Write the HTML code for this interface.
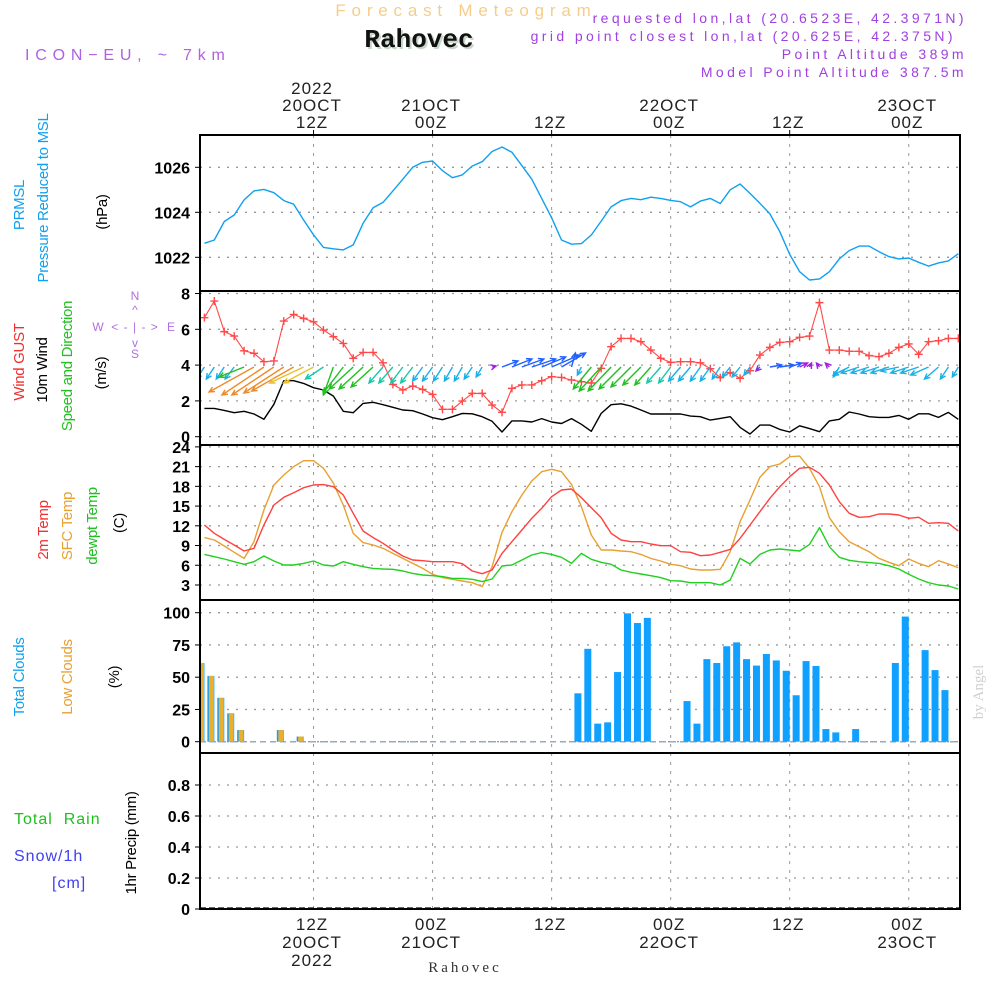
<!DOCTYPE html>
<html><head><meta charset="utf-8"><style>
html,body{margin:0;padding:0;background:#fff;}
svg{display:block;}
.tk{font-family:"Liberation Sans",sans-serif;font-weight:bold;font-size:16px;fill:#000;}
.tl{font-family:"Liberation Sans",sans-serif;font-size:17px;fill:#222;letter-spacing:1px;}
.rl{font-family:"Liberation Sans Narrow","Liberation Sans",sans-serif;font-size:15px;letter-spacing:-0.3px;}
</style></head><body>
<svg id="chart" width="1000" height="1000" viewBox="0 0 1000 1000" xmlns="http://www.w3.org/2000/svg">
<g>
<text x="466" y="16" text-anchor="middle" font-family="Liberation Sans,sans-serif" font-size="17" letter-spacing="5.8" fill="#f5cd8a">Forecast Meteogram</text>
<text x="421" y="49" text-anchor="middle" font-family="Liberation Mono,monospace" font-weight="bold" font-size="26" fill="#c8d8c8">Rahovec</text>
<text x="419" y="47" text-anchor="middle" font-family="Liberation Mono,monospace" font-weight="bold" font-size="26" fill="#111">Rahovec</text>
<text x="25" y="60" font-family="Liberation Sans,sans-serif" font-size="16" letter-spacing="5.8" fill="#b060e0">ICON−EU, ~ 7km</text>
<g font-family="Liberation Sans,sans-serif" font-size="14" letter-spacing="3.4" fill="#a040e0" text-anchor="end">
<text x="967" y="23">requested lon,lat (20.6523E, 42.3971N)</text>
<text x="956" y="41">grid point closest lon,lat (20.625E, 42.375N)</text>
<text x="967" y="59">Point Altitude 389m</text>
<text x="967" y="77">Model Point Altitude 387.5m</text>
</g>
</g>
<g id="grid"></g>
<g id="marks"></g>
<g id="frames"></g>
<g id="axes"></g>
<g>
<text class="rl" transform="translate(24,205) rotate(-90)" text-anchor="middle" fill="#10a0f0">PRMSL</text>
<text class="rl" transform="translate(48,198) rotate(-90)" text-anchor="middle" fill="#10a0f0">Pressure Reduced to MSL</text>
<text class="rl" transform="translate(107,212) rotate(-90)" text-anchor="middle" fill="#000">(hPa)</text>
<text class="rl" transform="translate(24,362) rotate(-90)" text-anchor="middle" fill="#f03030">Wind GUST</text>
<text class="rl" transform="translate(47,370) rotate(-90)" text-anchor="middle" fill="#000">10m Wind</text>
<text class="rl" transform="translate(72,366) rotate(-90)" text-anchor="middle" fill="#20c020">Speed and Direction</text>
<text class="rl" transform="translate(106,373) rotate(-90)" text-anchor="middle" fill="#000">(m/s)</text>
<g font-family="Liberation Sans,sans-serif" font-size="12" fill="#b070e0" text-anchor="middle">
<text x="135" y="300">N</text><text x="98" y="331">W</text><text x="171" y="331">E</text><text x="135" y="358">S</text>
<text x="135" y="331" letter-spacing="1">&lt; - | - &gt;</text>
<text x="135" y="314">^</text><text x="135" y="347">v</text>
</g>
<text class="rl" transform="translate(48,530) rotate(-90)" text-anchor="middle" fill="#f03030">2m Temp</text>
<text class="rl" transform="translate(72,526) rotate(-90)" text-anchor="middle" fill="#e8a030">SFC Temp</text>
<text class="rl" transform="translate(97,526) rotate(-90)" text-anchor="middle" fill="#20c020">dewpt Temp</text>
<text class="rl" transform="translate(124,523) rotate(-90)" text-anchor="middle" fill="#000">(C)</text>
<text class="rl" transform="translate(24,677) rotate(-90)" text-anchor="middle" fill="#10a0f0">Total Clouds</text>
<text class="rl" transform="translate(72,677) rotate(-90)" text-anchor="middle" fill="#e8a030">Low Clouds</text>
<text class="rl" transform="translate(119,677) rotate(-90)" text-anchor="middle" fill="#000">(%)</text>
<text x="14" y="824" font-family="Liberation Sans,sans-serif" font-size="16" letter-spacing="1" fill="#20c020" xml:space="preserve">Total  Rain</text>
<text x="14" y="861" font-family="Liberation Sans,sans-serif" font-size="16" letter-spacing="1" fill="#4040f0">Snow/1h</text>
<text x="52" y="888" font-family="Liberation Sans,sans-serif" font-size="16" letter-spacing="1" fill="#4040f0">[cm]</text>
<text class="rl" transform="translate(136,843) rotate(-90)" text-anchor="middle" fill="#000">1hr Precip (mm)</text>
<text transform="translate(983,692) rotate(-90)" text-anchor="middle" font-family="Liberation Serif,serif" font-size="15" fill="#d0d0d0">by Angel</text>
<text x="465" y="972" text-anchor="middle" font-family="Liberation Serif,serif" font-size="15" letter-spacing="3" fill="#333">Rahovec</text>
</g>
</svg>
<script>
// ---- data (hourly, h = 1..77 hours since 00Z 20 OCT 2022) ----
const pressure = [1022.62,1022.77,1023.59,1023.88,1024.55,1024.95,1025.02,1024.87,1024.52,1024.36,1023.66,1023.0,1022.44,1022.38,1022.33,1022.55,1023.51,1024.2,1024.44,1024.95,1025.47,1026.0,1026.22,1026.28,1025.85,1025.54,1025.66,1026.06,1026.25,1026.7,1026.9,1026.67,1026.07,1025.47,1024.62,1023.76,1022.77,1022.58,1022.61,1022.99,1023.61,1024.24,1024.52,1024.62,1024.56,1024.67,1024.62,1024.53,1024.47,1024.24,1024.5,1024.62,1024.39,1025.0,1025.26,1024.84,1024.4,1023.93,1023.14,1022.13,1021.36,1020.99,1021.04,1021.36,1021.93,1022.3,1022.5,1022.5,1022.25,1022.03,1021.93,1021.97,1021.78,1021.61,1021.75,1021.84,1022.16];
const windSpeed = [1.58,1.58,1.47,1.34,1.42,1.27,0.97,1.81,3.13,3.13,2.98,2.74,2.61,2.27,1.42,1.34,1.86,1.92,1.79,1.64,1.49,1.45,1.27,1.06,0.95,1.12,1.30,1.28,1.12,0.86,0.26,0.88,0.88,0.82,1.01,0.82,0.74,1.01,0.69,0.30,1.30,1.79,1.84,1.71,1.49,1.27,1.27,1.27,1.27,1.15,1.12,0.93,1.02,1.12,0.52,0.15,0.65,0.65,0.41,0.26,0.61,0.45,0.28,0.88,0.97,1.38,1.27,1.12,1.08,1.08,1.19,0.97,1.28,1.28,1.08,1.36,0.97];
const windGust = [6.65,7.58,5.87,5.62,4.80,4.66,4.19,4.23,6.46,6.83,6.61,6.42,5.96,5.59,5.21,4.38,4.71,4.71,4.13,2.92,2.61,2.83,2.64,2.36,1.53,1.53,1.99,2.42,2.42,1.77,1.36,2.70,2.89,2.89,3.13,3.35,3.31,3.17,3.07,3.0,3.82,5.03,5.49,5.49,5.31,4.84,4.38,4.15,4.19,4.19,4.13,3.80,3.30,3.58,3.26,3.69,4.56,4.99,5.27,5.31,5.55,5.62,7.49,4.84,4.84,4.77,4.77,4.53,4.47,4.66,4.99,5.18,4.60,5.31,5.36,5.49,5.49];
const arrowU = [-8,-8,-8,-9,-25,-45,-42,-42,-40,-42,-34,-30,-18,-10,-20,-24,-24,-22,-14,-14,-12,-12,-10,-10,-9,-8,-8,-8,-6,4,16,20,22,24,24,28,24,4,-4,-18,-22,-23,-22,-20,-18,-16,-14,-12,-12,-12,-10,-10,-8,-8,-8,-6,-4,12,14,12,8,2,-3,-4,-6,-16,-18,-18,-18,-18,-18,-18,-18,-18,-14,-8,-6];
const arrowV = [12,12,12,12,10,25,28,28,26,24,16,16,12,28,26,22,22,20,16,16,16,16,14,14,14,14,14,12,10,-1,-6,-8,-8,-8,-10,-12,-14,-14,8,22,24,24,22,20,18,18,16,16,14,14,14,14,12,10,10,8,4,-2,-2,-4,-4,-4,-4,-4,10,8,6,6,6,6,4,6,6,8,12,12,10];
const temp2m = [12.12,10.86,9.94,9.08,8.17,8.58,12.12,15.16,16.33,17.04,17.8,18.2,18.26,17.95,16.68,13.9,11.21,10.2,9.34,8.32,7.41,6.8,6.7,6.55,6.55,6.55,6.24,5.13,4.72,5.28,7.81,9.59,11.36,13.14,14.66,16.43,17.45,17.6,16.28,14.76,13.24,10.86,9.84,9.59,9.59,9.23,8.98,8.98,8.07,7.97,7.46,7.56,7.97,8.42,10.1,12.12,14.15,16.18,17.95,19.47,20.74,20.89,19.98,18.2,15.67,13.9,13.29,13.39,13.8,13.8,13.64,13.14,13.29,12.38,12.48,12.38,11.21];
const tempSfc = [10.2,9.84,8.93,7.97,7.05,9.59,14.4,18.2,19.73,21.0,21.9,21.9,20.74,18.46,15.16,10.86,9.44,9.08,8.58,7.81,7.05,6.29,5.53,4.62,4.12,3.86,3.61,3.35,2.75,5.79,11.0,14.15,16.68,18.81,20.23,20.59,20.23,18.3,14.9,10.6,8.32,8.32,8.17,8.07,7.66,7.05,6.65,6.14,5.94,5.43,5.28,5.28,5.38,8.07,12.63,15.92,19.37,21.0,21.4,22.5,22.6,20.74,17.95,13.24,11.1,9.59,8.83,8.07,7.05,6.45,5.94,6.95,6.29,5.79,6.7,6.19,5.63];
const dewpoint = [7.66,7.31,6.95,6.55,6.14,6.55,7.41,6.65,6.04,6.04,6.29,6.65,6.04,5.89,6.55,6.14,5.79,5.53,5.43,5.38,5.13,4.77,4.52,4.42,4.27,4.01,4.01,3.86,3.51,3.91,5.89,6.04,6.8,7.56,7.92,7.66,7.21,6.29,7.81,6.9,6.45,6.14,5.28,4.93,4.67,4.42,4.12,3.66,3.61,3.35,3.35,3.35,3.0,3.76,7.05,6.19,7.66,8.32,8.47,8.32,8.17,9.18,11.72,8.83,7.21,6.75,6.55,6.4,6.29,5.94,5.43,4.62,3.91,3.35,3.0,2.85,2.39];
// clouds: hours 0..76
const totalClouds = [61,51,34,22,9,0,0,0,9,0,4,0,0,0,0,0,0,0,0,0,0,0,0,0,0,0,0,0,0,0,0,0,0,0,0,0,0,0,37.5,72,14,15,54,99.5,92,96,0,0,0,31.5,14,64,61,74,77,64,59,68,63,55,36,62.5,58.7,9.8,7.2,0,9.8,0,0,0,61,97,0,71,55.5,40,0];
const lowClouds = [61,51,34,22,9,0,0,0,9,0,4,0,0,0,0,0,0,0,0,0,0,0,0,0,0,0,0,0,0,0,0,0,0,0,0,0,0,0,0,0,0,0,0,0,0,0,0,0,0,0,0,0,0,0,0,0,0,0,0,0,0,0,0,0,0,0,0,0,0,0,0,0,0,0,0,0,0];
const precip = new Array(77).fill(0);
const pressTicks = [1022,1024,1026];
const windTicks = [0,2,4,6,8];
const tempTicks = [3,6,9,12,15,18,21,24];
const cloudTicks = [0,25,50,75,100];
const precipTicks = [0,0.2,0.4,0.6,0.8];
const timeTickHours = [12,24,36,48,60,72];
const topLabels = [["2022","20OCT","12Z"],["","21OCT","00Z"],["","","12Z"],["","22OCT","00Z"],["","","12Z"],["","23OCT","00Z"]];
const bottomLabels = [["12Z","20OCT","2022"],["00Z","21OCT",""],["12Z","",""],["00Z","22OCT",""],["12Z","",""],["00Z","23OCT",""]];

// ---- scales ----
const X0=200, X1=960;
const xS = h => 194.5 + 9.92*h;
const yP = p => 257.3 - (p-1022)*22.5;
const yW = v => 436.7 - v*17.9;
const yT = t => 585 - (t-3)*6.577;
const yC = c => 741.7 - c*1.29;
const yR = r => 909 - r*155;
const panels = [[135,291],[291,445],[445,600],[600,753],[753,909]];

const NS="http://www.w3.org/2000/svg";
function mk(tag, attrs, parent){const e=document.createElementNS(NS,tag);for(const k in attrs)e.setAttribute(k,attrs[k]);parent.appendChild(e);return e;}
const grid=document.getElementById('grid'), marks=document.getElementById('marks'), frames=document.getElementById('frames'), axes=document.getElementById('axes');

const defs=mk('defs',{},document.getElementById('chart'));
const cp=mk('clipPath',{id:'clipPlot'},defs); mk('rect',{x:X0,y:135,width:X1-X0,height:774},cp);
marks.setAttribute('clip-path','url(#clipPlot)');

timeTickHours.forEach((h,i)=>{
  panels.forEach(pn=>{
    const l=mk('line',{x1:xS(h),x2:xS(h),y1:pn[0],y2:pn[1],stroke:'#999','stroke-dasharray':'3,6','stroke-width':1},grid);
    
    
  });
  const t1=mk('line',{x1:xS(h),x2:xS(h),y1:130,y2:135,stroke:'#000'},axes);
  
  
  const cx=xS(h)-1.5;
  topLabels[i].forEach((s,j)=>{ if(!s) return;
    const t=mk('text',{x:cx,y:94+j*17,'text-anchor':'middle',class:'tl'},axes); t.textContent=s;
    
    
  });
  bottomLabels[i].forEach((s,j)=>{ if(!s) return;
    const t=mk('text',{x:cx,y:930+j*18,'text-anchor':'middle',class:'tl'},axes); t.textContent=s;
    
    
  });
});
function hgrid(ticks, yf, fmt, name){
  ticks.forEach(v=>{
    const y=yf(v);
    const l=mk('line',{x1:X0,x2:X1,y1:y,y2:y,stroke:'#999','stroke-dasharray':'2,7','stroke-width':1.3},grid);
    
    
    mk('line',{x1:X0-5,x2:X0,y1:y,y2:y,stroke:'#000'},axes);
    const t=mk('text',{x:190,y:y+6,'text-anchor':'end',class:'tk'},axes); t.textContent=fmt(v);
    
    
  });
}
hgrid(pressTicks,yP,v=>v,'pressure');
hgrid(windTicks,yW,v=>v,'wind');
hgrid(tempTicks,yT,v=>v,'temp');
hgrid(cloudTicks,yC,v=>v,'cloud');
hgrid(precipTicks,yR,v=>v===0?'0':v.toFixed(1),'precip');

panels.forEach(pn=>{
  const r=mk('rect',{x:X0,y:pn[0],width:X1-X0,height:pn[1]-pn[0],fill:'none',stroke:'#000','stroke-width':2},frames);
  
  
});

function line(arr, yf, color, name, w){
  const pts=arr.map((v,i)=>xS(i+1).toFixed(1)+','+yf(v).toFixed(1)).join(' ');
  const p=mk('polyline',{points:pts,fill:'none',stroke:color,'stroke-width':w||1.4,'stroke-linejoin':'round'},marks);
  
  
}
line(pressure,yP,'#10a0f0','pressure-line');
line(windSpeed,yW,'#000','wind-speed-line');
line(windGust,yW,'#ff4848','wind-gust-line',1.1);
windGust.forEach((v,i)=>{
  const x=xS(i+1), y=yW(v);
  const m=mk('path',{d:`M${x-4},${y}h8M${x},${y-4}v8`,stroke:'#ff4848','stroke-width':1.4},marks);
  
  
});
function arrowColor(dx,dy){
  const L=Math.hypot(dx,dy);
  if(dy<0) return L<9?'#a020e0':'#2060ff';
  if(L<8) return '#8030e0';
  if(L>=40) return '#f08a28';
  if(L>=34) return '#e8c030';
  if(L>=24) return '#20c020';
  if(L>=20) return '#18c8a8';
  return '#18b0e8';
}
arrowU.forEach((dx,i)=>{
  const dy=arrowV[i];
  const x=xS(i+1), y=367, x2=x+dx, y2=y+dy;
  const c=arrowColor(dx,dy);
  const a=Math.atan2(dy,dx), hl=6;
  const d=`M${x},${y}L${x2},${y2}M${x2+hl*Math.cos(a+2.7)},${y2+hl*Math.sin(a+2.7)}L${x2},${y2}L${x2+hl*Math.cos(a-2.7)},${y2+hl*Math.sin(a-2.7)}`;
  const p=mk('path',{d:d,stroke:c,'stroke-width':1.4,fill:'none'},marks);
  
  
});
line(tempSfc,yT,'#e8a030','sfc-temp-line');
line(temp2m,yT,'#ff4040','temp-2m-line');
line(dewpoint,yT,'#20d020','dewpoint-line');
const base=mk('line',{x1:X0,x2:X1,y1:yC(0),y2:yC(0),stroke:'#9ab','stroke-dasharray':'6,4','stroke-width':1.5},marks);


totalClouds.forEach((c,i)=>{
  const cx=xS(i+0.65);
  if(c>0){
    const r=mk('rect',{x:cx-3.5,y:yC(c),width:7,height:yC(0)-yC(c),fill:'#10a0ff'},marks);
    
    
  }
  const lc=lowClouds[i];
  if(lc>0){
    const r2=mk('rect',{x:cx-2,y:yC(lc),width:5,height:yC(0)-yC(lc),fill:'#e8b030'},marks);
    
    
  }
});
const pb=mk('line',{x1:X0,x2:X1,y1:yR(0)-1,y2:yR(0)-1,stroke:'#333','stroke-dasharray':'6,3','stroke-width':1.5},marks);


precip.forEach((r,i)=>{ if(r>0){
  const b=mk('rect',{x:xS(i+1)-3,y:yR(r),width:6,height:yR(0)-yR(r),fill:'#20c020'},marks);
  
  
}});
</script>
</body></html>
